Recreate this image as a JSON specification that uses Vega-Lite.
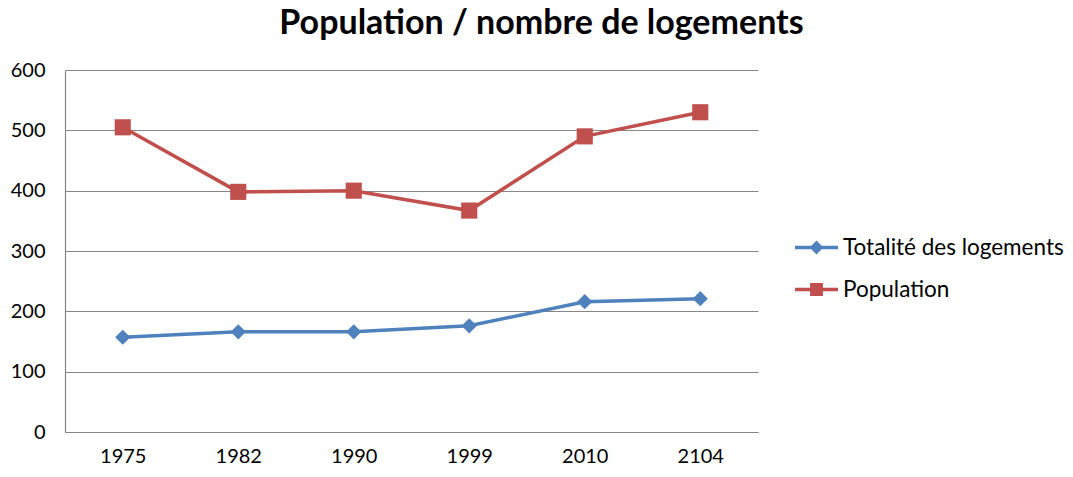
{
  "$schema": "https://vega.github.io/schema/vega-lite/v6.json",
  "width": 693,
  "height": 362,
  "autosize": {"type": "none"},
  "padding": {"left": 65, "top": 70, "right": 315, "bottom": 45},
  "background": "white",
  "title": {
    "text": "Population / nombre de logements",
    "font": "Lato",
    "fontWeight": "bold",
    "fontSize": 34,
    "color": "#000000",
    "anchor": "middle",
    "dx": 130,
    "offset": 19
  },
  "config": {
    "view": {"stroke": null},
    "font": "Lato"
  },
  "data": {
    "values": [
      {"annee": "1975", "serie": "Totalité des logements", "valeur": 157},
      {"annee": "1982", "serie": "Totalité des logements", "valeur": 166},
      {"annee": "1990", "serie": "Totalité des logements", "valeur": 166},
      {"annee": "1999", "serie": "Totalité des logements", "valeur": 176},
      {"annee": "2010", "serie": "Totalité des logements", "valeur": 216},
      {"annee": "2104", "serie": "Totalité des logements", "valeur": 221},
      {"annee": "1975", "serie": "Population", "valeur": 505},
      {"annee": "1982", "serie": "Population", "valeur": 398},
      {"annee": "1990", "serie": "Population", "valeur": 400},
      {"annee": "1999", "serie": "Population", "valeur": 367},
      {"annee": "2010", "serie": "Population", "valeur": 490},
      {"annee": "2104", "serie": "Population", "valeur": 530}
    ]
  },
  "encoding": {
    "x": {
      "field": "annee",
      "type": "ordinal",
      "sort": null,
      "scale": {"type": "point", "padding": 0.5},
      "axis": {
        "title": null,
        "labelAngle": 0,
        "labelFont": "Lato",
        "labelFontSize": 20,
        "labelColor": "#000000",
        "labelPadding": 14,
        "ticks": false,
        "domainColor": "#868686",
        "domainWidth": 1.2,
        "grid": false
      }
    },
    "y": {
      "field": "valeur",
      "type": "quantitative",
      "scale": {"domain": [0, 600], "nice": false},
      "axis": {
        "title": null,
        "values": [0, 100, 200, 300, 400, 500, 600],
        "labelFont": "Lato",
        "labelFontSize": 20,
        "labelColor": "#000000",
        "labelPadding": 20,
        "ticks": false,
        "domainColor": "#868686",
        "domainWidth": 1.2,
        "gridColor": "#868686",
        "gridWidth": 1.2
      }
    },
    "color": {
      "field": "serie",
      "type": "nominal",
      "sort": ["Totalité des logements", "Population"],
      "scale": {
        "domain": ["Totalité des logements", "Population"],
        "range": ["#4F81BD", "#C0504D"]
      },
      "legend": {
        "title": null,
        "orient": "none",
        "legendX": 730,
        "legendY": 156,
        "padding": 0,
        "labelFont": "Lato",
        "labelFontSize": 22.5,
        "labelColor": "#000000",
        "labelLimit": 0,
        "labelOffset": 5,
        "rowPadding": 9,
        "symbolSize": 1849,
        "symbolStrokeWidth": 0,
        "symbolType": "M-1,-0.08H1V0.08H-1Z",
        "encode": {
          "symbols": {
            "update": {
              "shape": {
                "signal": "datum.value === 'Population' ? 'M-1,-0.08H1V0.08H-1Z M-0.3,-0.3H0.3V0.3H-0.3Z' : 'M-1,-0.08H1V0.08H-1Z M0,-0.32L0.32,0L0,0.32L-0.32,0Z'"
              },
              "strokeWidth": {"value": 0}
            }
          }
        }
      }
    }
  },
  "layer": [
    {
      "mark": {"type": "line", "strokeWidth": 3.5}
    },
    {
      "transform": [{"filter": "datum.serie === 'Totalité des logements'"}],
      "mark": {"type": "point", "filled": true, "opacity": 1, "shape": "diamond", "size": 230}
    },
    {
      "transform": [{"filter": "datum.serie === 'Population'"}],
      "mark": {"type": "point", "filled": true, "opacity": 1, "shape": "square", "size": 260}
    }
  ]
}
